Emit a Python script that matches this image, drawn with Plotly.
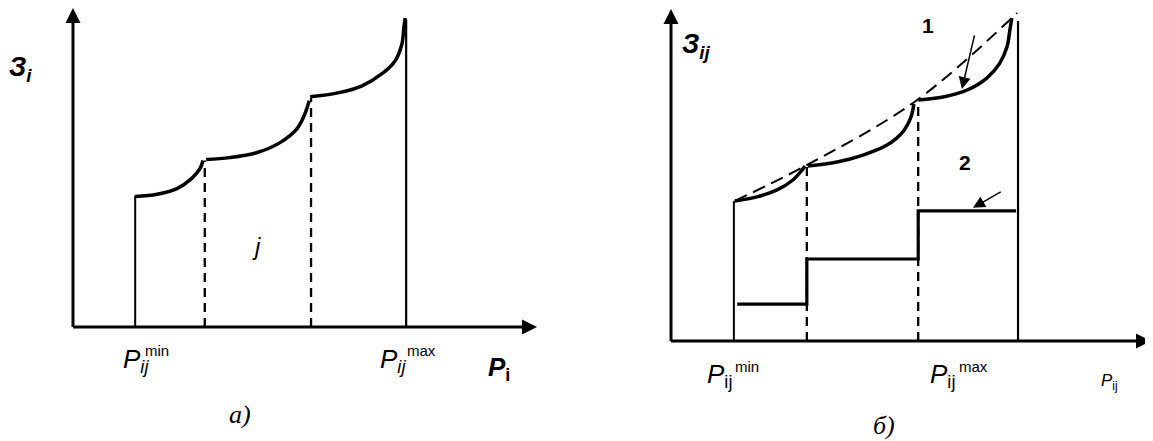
import plotly.graph_objects as go

# panel a) - segments of the cost curve (P, Z)
a_seg1_p = [1.34, 1.81, 2.24, 2.56, 2.74, 2.80]
a_seg1_z = [4.09, 4.16, 4.34, 4.66, 4.97, 5.22]
a_seg2_p = [2.87, 3.38, 3.97, 4.46, 4.83, 5.00, 5.09]
a_seg2_z = [5.25, 5.31, 5.47, 5.78, 6.22, 6.69, 7.09]
a_seg3_p = [5.11, 5.71, 6.23, 6.66, 6.94, 7.09, 7.13, 7.16]
a_seg3_z = [7.22, 7.34, 7.56, 7.94, 8.34, 8.88, 9.38, 9.69]
a_pmin, a_pmax = 1.34, 7.18
a_zmin, a_zmax = 4.12, 9.63
a_breaks_p = [2.84, 5.13]
a_breaks_z = [5.22, 7.19]

# panel б)
b_seg1_p = [1.33, 1.79, 2.21, 2.54, 2.73, 2.79]
b_seg1_z = [4.22, 4.34, 4.55, 4.85, 5.15, 5.27]
b_seg2_p = [2.85, 3.46, 4.00, 4.50, 4.83, 5.00, 5.06]
b_seg2_z = [5.27, 5.39, 5.60, 5.90, 6.30, 6.75, 7.14]
b_seg3_p = [5.15, 5.67, 6.17, 6.58, 6.85, 7.00, 7.06, 7.10]
b_seg3_z = [7.26, 7.35, 7.56, 7.92, 8.37, 8.86, 9.37, 9.73]
b_pmin, b_pmax = 1.31, 7.23
b_zmin, b_zmax = 4.22, 9.64
b_breaks_p = [2.83, 5.15]
b_breaks_z = [5.25, 7.23]
# curve 1 (dashed envelope) and curve 2 (steps)
c1_p = [1.33, 2.79, 5.10, 7.21]
c1_z = [4.22, 5.27, 7.23, 9.88]
c2_p = [1.38, 2.83, 5.15, 7.19]
c2_z = [1.11, 2.47, 3.92, 3.92]

BLK = "black"
fig = go.Figure()


def line(x, y, xa, ya, width=3.5, dash=None, shape="linear"):
    fig.add_trace(go.Scatter(x=x, y=y, xaxis=xa, yaxis=ya, mode="lines",
                             line=dict(color=BLK, width=width, dash=dash, shape=shape),
                             hoverinfo="skip", showlegend=False))


# left panel
for p, z in [(a_seg1_p, a_seg1_z), (a_seg2_p, a_seg2_z), (a_seg3_p, a_seg3_z)]:
    line(p, z, "x", "y", shape="spline")
line([a_pmin, a_pmin], [0, a_zmin], "x", "y", width=2)
line([a_pmax, a_pmax], [0, a_zmax], "x", "y", width=2.2)
for p, z in zip(a_breaks_p, a_breaks_z):
    line([p, p], [0, z], "x", "y", width=2.3, dash="9px,6px")

# right panel
for p, z in [(b_seg1_p, b_seg1_z), (b_seg2_p, b_seg2_z), (b_seg3_p, b_seg3_z)]:
    line(p, z, "x2", "y2", shape="spline")
line([b_pmin, b_pmin], [0, b_zmin], "x2", "y2", width=2)
line([b_pmax, b_pmax], [0, b_zmax], "x2", "y2", width=2.2)
for p, z in zip(b_breaks_p, b_breaks_z):
    line([p, p], [0, z], "x2", "y2", width=2.3, dash="9px,6px")
line(c1_p, c1_z, "x2", "y2", width=2, dash="13px,7px", shape="spline")
line(c2_p, c2_z, "x2", "y2", width=3.2, shape="hv")

ann = []


def arrow(x0, y0, x1, y1, xr, yr, w=3, size=1.0):
    ann.append(dict(x=x1, y=y1, ax=x0, ay=y0, xref=xr, yref=yr, axref=xr, ayref=yr,
                    showarrow=True, arrowhead=2, arrowsize=size, arrowwidth=w,
                    arrowcolor=BLK, text="", standoff=0))


# axes with arrows
arrow(0, -0.05, 0, 10, "x", "y")
arrow(-0.03, 0, 10, 0, "x", "y")
arrow(0, -0.05, 0, 10, "x2", "y2")
arrow(-0.03, 0, 10, 0, "x2", "y2")
# pointers to curves 1 and 2
arrow(6.33, 9.25, 6.06, 7.59, "x2", "y2", w=1.5, size=1.6)
arrow(6.90, 4.52, 6.29, 4.01, "x2", "y2", w=1.5, size=1.6)

# page body has an 8px margin, so the figure is placed 8px in
OFF = 8
W, H = 1153 - OFF, 441 - OFF
SANS = "Liberation Sans, Arial"
SERIF = "Liberation Serif, Times New Roman"


def px(v):
    return (v - OFF) / W


def py(v):
    return min(1.0, 1 - (v - OFF) / H)


def label(x, y, text, size, family=SANS):
    ann.append(dict(x=px(x), y=py(y), xref="paper", yref="paper", text=text,
                    showarrow=False, xanchor="left", yanchor="middle",
                    font=dict(family=family, size=size, color=BLK)))


label(7, 69, "<b><i>З<sub>i</sub></i></b>", 27)
label(250, 246, "<i>j</i>", 24)
label(121, 360, "<i>P<sub>ij</sub></i>", 26)
label(143, 350, "min", 15)
label(378, 360, "<i>P<sub>ij</sub></i>", 26)
label(405, 350, "max", 15)
label(486, 368, "<b><i>P</i><sub>i</sub></b>", 26)
label(227, 414, "<i>a)</i>", 26, SERIF)

label(680, 46, "<b><i>З<sub>ij</sub></i></b>", 27)
label(920, 25, "<b>1</b>", 21)
label(957, 162, "<b>2</b>", 21)
label(705, 375, "<i>P</i><sub>ij</sub>", 26)
label(733, 366, "min", 15)
label(928, 375, "<i>P</i><sub>ij</sub>", 26)
label(957, 366, "max", 15)
label(1099, 382, "<i>P</i><sub>ij</sub>", 17)
label(871, 425, "<i>б)</i>", 26, SERIF)

hidden = dict(visible=False, showgrid=False, zeroline=False, fixedrange=True)
fig.update_layout(
    width=W, height=H, margin=dict(l=0, r=0, t=0, b=0),
    paper_bgcolor="white", plot_bgcolor="white",
    xaxis=dict(domain=[px(73), px(537)], range=[0, 10], **hidden),
    yaxis=dict(domain=[py(327), py(8)], range=[0, 10], **hidden),
    xaxis2=dict(domain=[px(671), px(1151)], range=[0, 10], anchor="y2", **hidden),
    yaxis2=dict(domain=[py(341), py(9)], range=[0, 10], anchor="x2", **hidden),
    annotations=ann,
)

fig.write_html("out.html")
